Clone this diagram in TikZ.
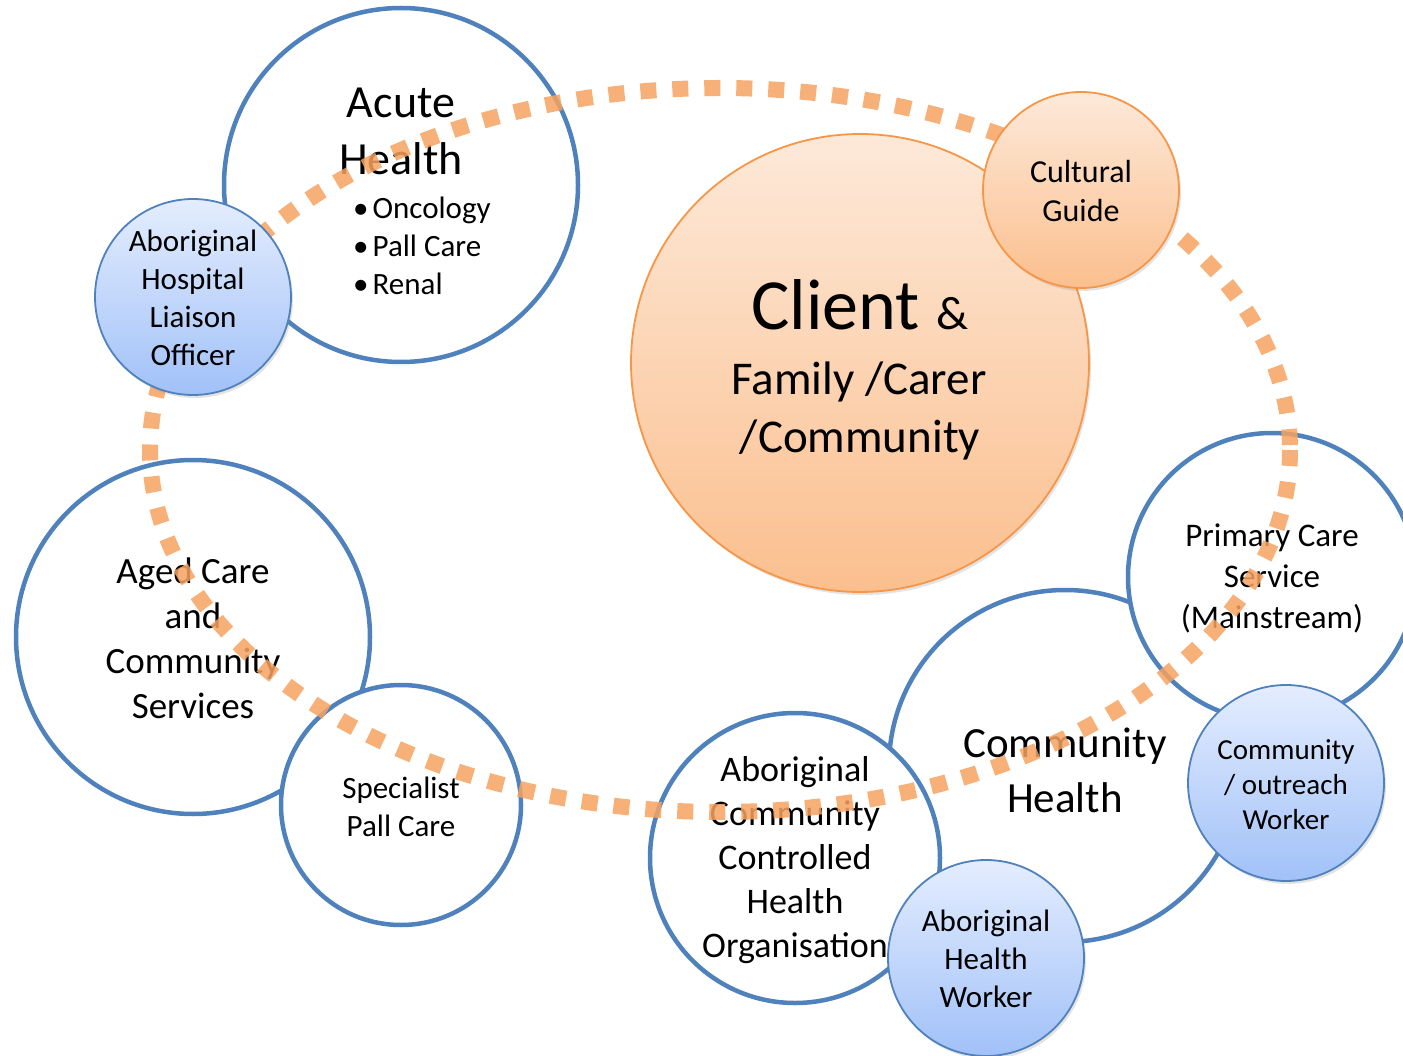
\documentclass[tikz,border=0pt]{standalone}
\usepackage{fontspec}
\setmainfont{Carlito}
\usetikzlibrary{shadows}
\definecolor{ringblue}{RGB}{79,129,189}
\definecolor{loopc}{RGB}{246,163,96}
\definecolor{bluetop}{RGB}{228,237,254}
\definecolor{bluebot}{RGB}{161,193,248}
\definecolor{orgtop}{RGB}{253,233,217}
\definecolor{orgbot}{RGB}{251,191,142}
\definecolor{orgline}{RGB}{247,150,70}
\tikzset{
  ring/.style={circle, draw=ringblue, line width=4.5pt, fill=white, inner sep=0pt},
  bluedisc/.style={circle, draw=ringblue, line width=1.8pt, top color=bluetop, bottom color=bluebot, inner sep=0pt,
     drop shadow={opacity=0.22, shadow xshift=2pt, shadow yshift=-3pt}},
  orgdisc/.style={circle, draw=orgline, line width=1.8pt, top color=orgtop, bottom color=orgbot, inner sep=0pt,
     drop shadow={opacity=0.22, shadow xshift=2pt, shadow yshift=-3pt}},
  lbl/.style={align=center, text=black, inner sep=0pt},
  dotloop/.style={draw=loopc, line width=16pt, dash pattern=on 16pt off 16pt, opacity=0.85}
}
\begin{document}
\begin{tikzpicture}[x=1pt,y=-1pt]
\useasboundingbox (0,0) rectangle (1403,1056);
% white circles
\node[ring, minimum size=354pt] (acute) at (401,185) {};
\node[lbl, font=\fontsize{46}{57}\selectfont] (acuteT) at (401,131) {Acute\\Health};
\node[lbl, align=left, anchor=west, font=\fontsize{31}{38}\selectfont] (acuteL) at (353,246)
  {•\hspace{4pt}Oncology\\•\hspace{4pt}Pall Care\\•\hspace{4pt}Renal};

\node[ring, minimum size=354pt] (aged) at (193,637) {};
\node[lbl, font=\fontsize{37}{45}\selectfont] (agedT) at (193,638) {Aged Care\\and\\Community\\Services};

\node[ring, minimum size=240pt] (spec) at (401,805) {};
\node[lbl, font=\fontsize{31}{38}\selectfont] (specT) at (401,807) {Specialist\\Pall Care};

\node[ring, minimum size=352pt] (comm) at (1065,766) {};
\node[lbl, font=\fontsize{43}{55}\selectfont] (commT) at (1065,770) {Community\\Health};

\node[ring, minimum size=288pt] (prim) at (1272,577) {};
\node[lbl, font=\fontsize{33}{41}\selectfont] (primT) at (1272,578) {Primary Care\\Service\\(Mainstream)};

\node[ring, minimum size=290pt] (accho) at (795,858) {};
\node[lbl, font=\fontsize{36}{44}\selectfont] (acchoT) at (795,860) {Aboriginal\\Community\\Controlled\\Health\\Organisation};

% client
\node[orgdisc, minimum size=458pt] (client) at (860,363) {};
\node[lbl, anchor=base] (clientA) at (860,330) {{\fontsize{72}{86}\selectfont Client }{\fontsize{47}{57}\selectfont\&}};
\node[lbl, anchor=base, font=\fontsize{47}{57}\selectfont] (clientB) at (859,395) {Family /Carer};
\node[lbl, anchor=base, font=\fontsize{47}{57}\selectfont] (clientC) at (860,452) {/Community};

% dotted loop
\draw[dotloop] (720,450) ellipse [x radius=570, y radius=362];

% coloured discs on top
\node[orgdisc, minimum size=196pt] (guide) at (1081,190) {};
\node[lbl, font=\fontsize{32}{39}\selectfont] (guideT) at (1081,191) {Cultural\\Guide};

\node[bluedisc, minimum size=196pt] (ahlo) at (193,297) {};
\node[lbl, font=\fontsize{31}{38}\selectfont] (ahloT) at (193,298) {Aboriginal\\Hospital\\Liaison\\Officer};

\node[bluedisc, minimum size=196pt] (outr) at (1286,783) {};
\node[lbl, font=\fontsize{29}{35}\selectfont] (outrT) at (1286,785) {Community\\/ outreach\\Worker};

\node[bluedisc, minimum size=196pt] (ahw) at (986,958) {};
\node[lbl, font=\fontsize{31}{38}\selectfont] (ahwT) at (986,959) {Aboriginal\\Health\\Worker};
\end{tikzpicture}
\end{document}
